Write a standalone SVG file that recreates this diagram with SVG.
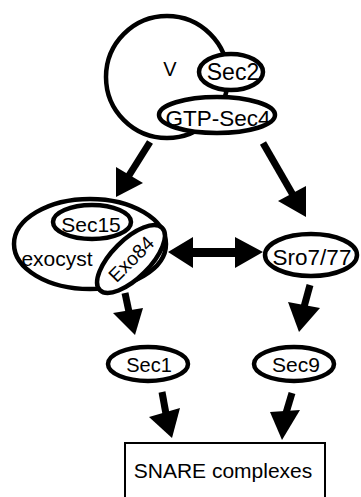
<svg xmlns="http://www.w3.org/2000/svg" width="361" height="497" viewBox="0 0 361 497">
<style>
.n{fill:#fff;stroke:#000;stroke-width:4.5}
.t{font-family:"Liberation Sans",Arial,sans-serif;font-size:21px;fill:#000;text-anchor:middle}
.s{stroke:#000;stroke-width:7;fill:none}
.h{fill:#000;stroke:none}
</style>
<rect width="361" height="497" fill="#fff"/>
<g id="vesicle">
<circle class="n" cx="167" cy="77" r="61"/>
<text class="t" x="170" y="76" style="font-size:20px">V</text>
</g>
<g id="sec2">
<ellipse class="n" cx="231" cy="72" rx="32" ry="18"/>
<text class="t" x="233" y="80" style="font-size:23px">Sec2</text>
</g>
<g id="gtp-sec4">
<ellipse class="n" cx="217" cy="115" rx="58" ry="18"/>
<text class="t" x="218" y="126" style="font-size:22.5px">GTP-Sec4</text>
</g>
<g id="exocyst">
<ellipse class="n" cx="90" cy="244" rx="76" ry="45"/>
<text class="t" x="57" y="266">exocyst</text>
</g>
<g id="sec15">
<ellipse class="n" cx="92" cy="222" rx="39" ry="17"/>
<text class="t" x="91" y="232">Sec15</text>
</g>
<g id="exo84">
<ellipse class="n" cx="131" cy="259" rx="44" ry="19" transform="rotate(-45 131 259)"/>
<text class="t" x="131" y="266" transform="rotate(-45 131 259)" style="font-size:19.5px">Exo84</text>
</g>
<g id="sro7">
<ellipse class="n" cx="311" cy="255" rx="46" ry="21"/>
<text class="t" x="312" y="265" style="font-size:22.5px">Sro7/77</text>
</g>
<g id="sec1">
<ellipse class="n" cx="148" cy="364" rx="40" ry="17"/>
<text class="t" x="149" y="372" style="font-size:20px">Sec1</text>
</g>
<g id="sec9">
<ellipse class="n" cx="294" cy="364" rx="40" ry="17"/>
<text class="t" x="296" y="372">Sec9</text>
</g>
<g id="snare">
<rect x="125" y="443" width="200" height="60" fill="#fff" stroke="#000" stroke-width="2"/>
<text class="t" x="223" y="478">SNARE complexes</text>
</g>
<g id="connectors">
<line class="s" x1="150" y1="142" x2="128" y2="177"/>
<polygon class="h" points="116,167 143,183 116,197"/>
<line class="s" x1="263" y1="143" x2="293" y2="195"/>
<polygon class="h" points="278,201 306,186 306,217"/>
<line class="s" x1="125" y1="293" x2="129" y2="312"/>
<polygon class="h" points="113,313 143,308 135,335"/>
<line class="s" x1="310" y1="285" x2="304" y2="307"/>
<polygon class="h" points="288,302 320,308 299,332"/>
<line class="s" x1="162" y1="392" x2="166" y2="414"/>
<polygon class="h" points="149,417 180,408 172,438"/>
<line class="s" x1="292" y1="393" x2="286" y2="413"/>
<polygon class="h" points="270,412 300,410 282,440"/>
<polygon class="h" points="168,252 193,237 193,248 235,248 235,237 263,252 235,268 235,257 193,257 193,268"/>
</g>
</svg>
